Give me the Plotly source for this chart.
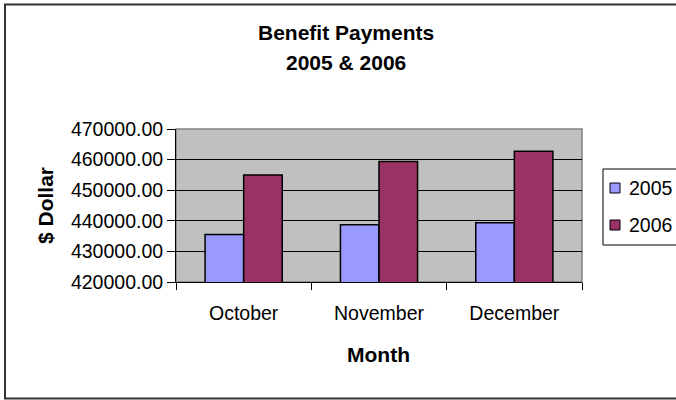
import plotly.graph_objects as go

months = ["October", "November", "December"]
series_names = ["2005", "2006"]
values_2005 = [435500, 438700, 439400]
values_2006 = [455000, 459400, 462700]
colors = ["#9999FF", "#993366"]

title_line1 = "Benefit Payments"
title_line2 = "2005 & 2006"
y_title = "$ Dollar"
x_title = "Month"

# plot area in pixels
PL, PR, PT, PB = 176, 582, 129, 282
W, H = 676, 400
pw, ph = PR - PL, PB - PT


def px(x):
    return (x - PL) / pw


def py(y):
    return (PB - y) / ph


FONT = "Liberation Sans, Arial, sans-serif"
TICK = 19.5
BOLD = 21

fig = go.Figure()
for name, vals, col in zip(series_names, [values_2005, values_2006], colors):
    fig.add_trace(go.Bar(
        x=months, y=vals, name=name, showlegend=False,
        marker=dict(color=col, line=dict(color="black", width=1.5)),
    ))

shapes = [
    dict(type="rect", xref="paper", yref="paper", x0=0, x1=1, y0=0, y1=1,
         line=dict(color="#808080", width=1.5), layer="below"),
    # outer chart border (left, top, bottom; right edge lies beyond the picture)
    dict(type="line", xref="paper", yref="paper",
         x0=px(5), x1=px(5), y0=py(398.5), y1=py(4.5),
         line=dict(color="#333333", width=2)),
    dict(type="line", xref="paper", yref="paper",
         x0=px(4), x1=px(676), y0=py(4.5), y1=py(4.5),
         line=dict(color="#333333", width=2)),
    dict(type="line", xref="paper", yref="paper",
         x0=px(4), x1=px(676), y0=py(398.5), y1=py(398.5),
         line=dict(color="#333333", width=2)),
    # legend box
    dict(type="rect", xref="paper", yref="paper",
         x0=px(603), x1=px(700), y0=py(245), y1=py(169),
         line=dict(color="black", width=1), fillcolor="white"),
]
annotations = [
    dict(text="<b>" + title_line1 + "</b>", x=px(346), y=py(32), xref="paper", yref="paper",
         showarrow=False, font=dict(size=BOLD), xanchor="center", yanchor="middle"),
    dict(text="<b>" + title_line2 + "</b>", x=px(346), y=py(62), xref="paper", yref="paper",
         showarrow=False, font=dict(size=BOLD), xanchor="center", yanchor="middle"),
    dict(text="<b>" + y_title + "</b>", x=px(45), y=py(206), xref="paper", yref="paper",
         showarrow=False, font=dict(size=BOLD), textangle=-90, xanchor="center", yanchor="middle"),
    dict(text="<b>" + x_title + "</b>", x=px(378), y=py(354), xref="paper", yref="paper",
         showarrow=False, font=dict(size=BOLD), xanchor="center", yanchor="middle"),
]
# legend entries
for i, (name, col) in enumerate(zip(series_names, colors)):
    cy = 188 + 37 * i
    shapes.append(dict(type="rect", xref="paper", yref="paper",
                       x0=px(610), x1=px(620), y0=py(cy + 5), y1=py(cy - 5),
                       line=dict(color="black", width=1), fillcolor=col))
    annotations.append(dict(text=name, x=px(627), y=py(cy), xref="paper", yref="paper",
                            showarrow=False, font=dict(size=TICK), xanchor="left",
                            yanchor="middle"))

fig.update_layout(
    width=W, height=H,
    margin=dict(l=PL, r=W - PR, t=PT, b=H - PB, autoexpand=False),
    paper_bgcolor="white",
    plot_bgcolor="#C0C0C0",
    barmode="group",
    bargap=0.43,
    bargroupgap=0,
    font=dict(family=FONT, size=TICK, color="black"),
    showlegend=False,
    xaxis=dict(
        showline=True, linecolor="black", linewidth=1,
        ticks="outside", ticklen=7, tickcolor="black",
        tickson="boundaries", showgrid=False,
        tickfont=dict(size=TICK), ticklabelstandoff=14,
    ),
    yaxis=dict(
        range=[420000, 470000], dtick=10000, tickformat=".2f",
        showline=True, linecolor="black", linewidth=1,
        ticks="outside", ticklen=8, tickcolor="black",
        showgrid=True, gridcolor="black", gridwidth=1,
        tickfont=dict(size=TICK), zeroline=False,
    ),
    shapes=shapes,
    annotations=annotations,
)

fig.write_html("out.html", config={"displayModeBar": False},
               post_script="document.body.style.margin='0';document.body.style.overflow='hidden';")
